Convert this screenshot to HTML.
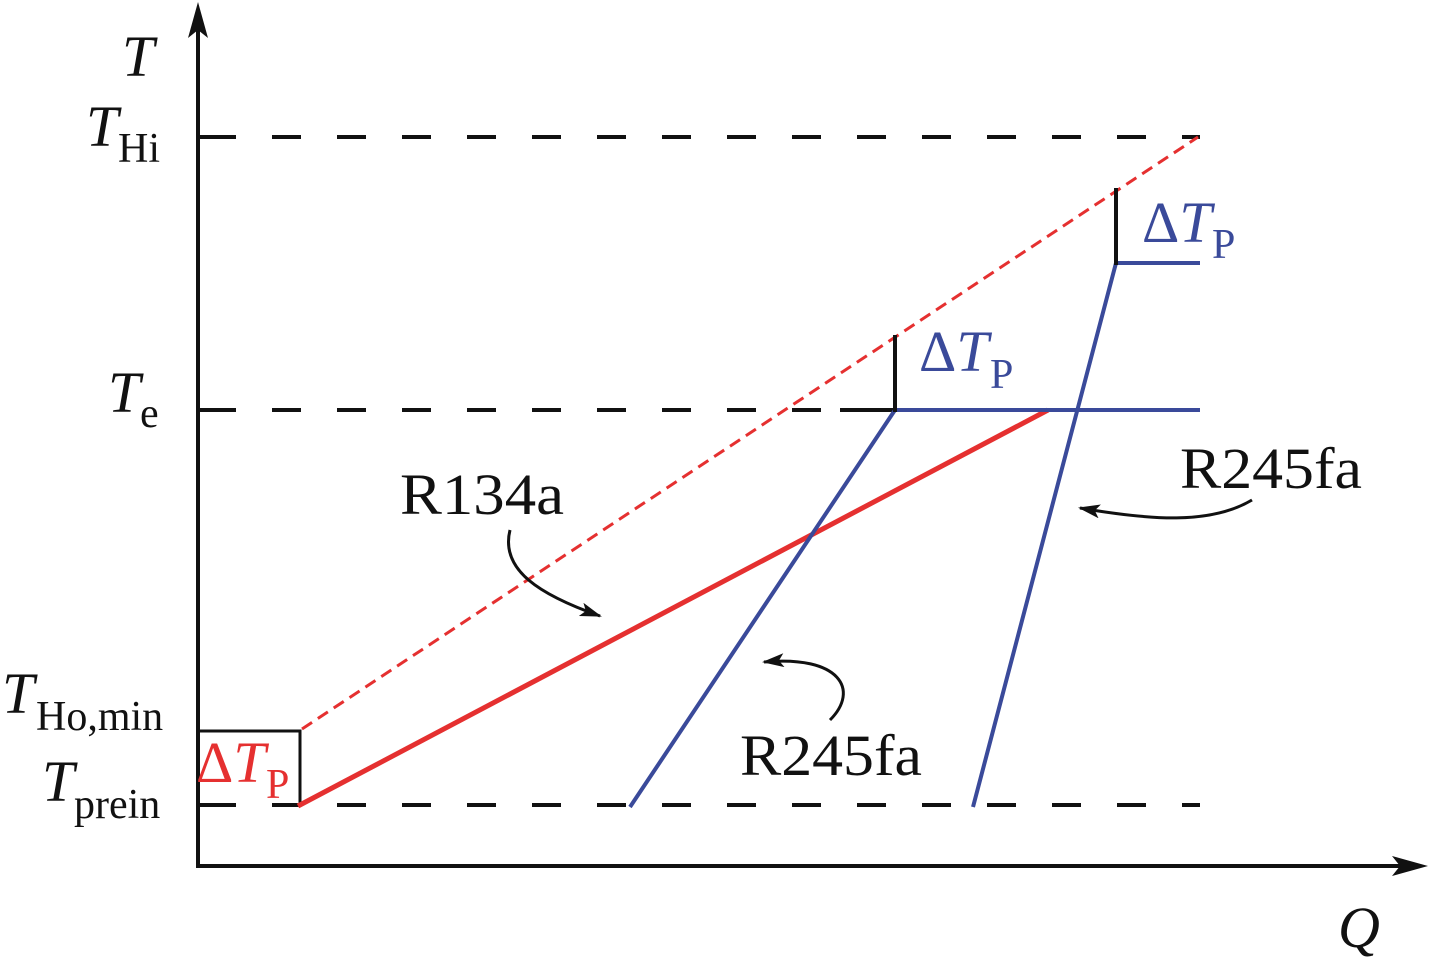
<!DOCTYPE html>
<html><head><style>
html,body{margin:0;padding:0;background:#fff;}
svg{display:block;}
text{font-family:"Liberation Serif",serif;}
</style></head><body>
<svg width="1429" height="958" viewBox="0 0 1429 958" xmlns="http://www.w3.org/2000/svg">
<defs>
<marker id="ah" markerWidth="22" markerHeight="14" refX="20" refY="7" orient="auto" markerUnits="userSpaceOnUse"><path d="M0,0 L22,7 L0,14 L5,7 Z" fill="#111"/></marker>
</defs>
<line x1="198" y1="868" x2="198" y2="20" stroke="#111" stroke-width="4"/>
<path d="M198,2 L188,38 L198,30 L208,38 Z" fill="#111"/>
<line x1="196" y1="866" x2="1410" y2="866" stroke="#111" stroke-width="4"/>
<path d="M1428,866 L1392,856 L1400,866 L1392,876 Z" fill="#111"/>
<g stroke="#111" stroke-width="4">
<line x1="198" y1="137" x2="236" y2="137"/>
<line x1="272" y1="137" x2="1200" y2="137" stroke-dasharray="29 36"/>
<line x1="198" y1="410" x2="236" y2="410"/>
<line x1="272" y1="410" x2="840" y2="410" stroke-dasharray="29 36"/>
<line x1="840" y1="410" x2="895" y2="410"/>
<line x1="198" y1="805" x2="236" y2="805"/>
<line x1="272" y1="805" x2="1200" y2="805" stroke-dasharray="29 36"/>
</g>
<polyline points="198,731 300,731 300,805" fill="none" stroke="#111" stroke-width="3"/>
<line x1="302" y1="729" x2="1198" y2="137" stroke="#e53030" stroke-width="3" stroke-dasharray="12 7"/>
<line x1="298" y1="806" x2="1048" y2="410" stroke="#e53030" stroke-width="5"/>
<polyline points="630,807 895,410 1200,410" fill="none" stroke="#3a4a9a" stroke-width="4"/>
<polyline points="973,807 1116,263 1200,263" fill="none" stroke="#3a4a9a" stroke-width="4"/>
<line x1="1116" y1="188" x2="1116" y2="265" stroke="#111" stroke-width="4"/>
<line x1="895" y1="335" x2="895" y2="412" stroke="#111" stroke-width="4"/>
<path d="M510,530 C500,570 540,595 600,616" fill="none" stroke="#111" stroke-width="3" marker-end="url(#ah)"/>
<path d="M1252,500 C1210,525 1150,520 1080,508" fill="none" stroke="#111" stroke-width="3" marker-end="url(#ah)"/>
<path d="M830,720 C860,690 840,655 764,662" fill="none" stroke="#111" stroke-width="3" marker-end="url(#ah)"/>
<g font-size="58" fill="#111">
<text x="122" y="76" font-style="italic">T</text>
<text x="86" y="146" font-style="italic">T</text><text x="118" y="162" font-size="42">Hi</text>
<text x="108" y="412" font-style="italic">T</text><text x="140" y="427" font-size="42">e</text>
<text x="2" y="713" font-style="italic">T</text><text x="36" y="730" font-size="42">Ho,min</text>
<text x="42" y="801" font-style="italic">T</text><text x="74" y="818" font-size="42">prein</text>
<text x="1338" y="947" font-style="italic">Q</text>
<text x="400" y="514" textLength="164" lengthAdjust="spacingAndGlyphs">R134a</text>
<text x="1180" y="488" textLength="182" lengthAdjust="spacingAndGlyphs">R245fa</text>
<text x="740" y="775" textLength="182" lengthAdjust="spacingAndGlyphs">R245fa</text>
</g>
<g font-size="58" fill="#e53030">
<text x="196" y="782">Δ<tspan font-style="italic">T</tspan></text><text x="266" y="798" font-size="42">P</text>
</g>
<g font-size="58" fill="#3a4a9a">
<text x="1142" y="242">Δ<tspan font-style="italic">T</tspan></text><text x="1212" y="258" font-size="42">P</text>
<text x="919" y="371">Δ<tspan font-style="italic">T</tspan></text><text x="990" y="388" font-size="42">P</text>
</g>
</svg>
</body></html>
